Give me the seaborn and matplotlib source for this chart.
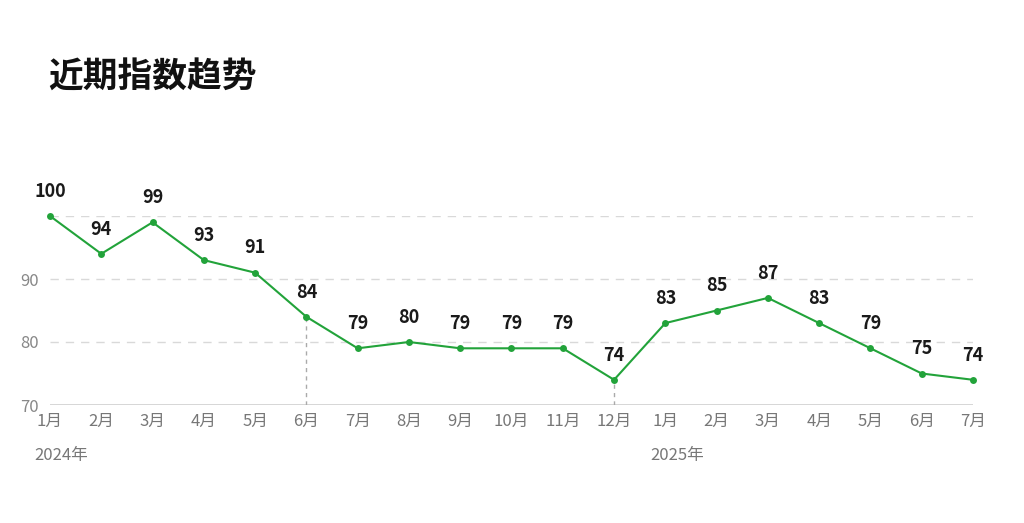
import glob
import matplotlib.pyplot as plt
from matplotlib import font_manager
import seaborn as sns
import pandas as pd

months = ["1月", "2月", "3月", "4月", "5月", "6月", "7月", "8月", "9月", "10月",
          "11月", "12月", "1月", "2月", "3月", "4月", "5月", "6月", "7月"]
values = [100, 94, 99, 93, 91, 84, 79, 80, 79, 79, 79, 74, 83, 85, 87, 83, 79, 75, 74]
years = {0: "2024年", 12: "2025年"}
y_ticks = [70, 80, 90]
grid_lines = [80, 90, 100]
marked = [5, 11]

# make sure a CJK font is registered
cjk_name = None
for path in glob.glob("/usr/share/fonts/**/*CJK*", recursive=True):
    try:
        font_manager.fontManager.addfont(path)
        if cjk_name is None:
            cjk_name = font_manager.FontProperties(fname=path).get_name()
    except Exception:
        pass
families = ["Noto Sans CJK SC", "Noto Sans CJK JP"]
if cjk_name:
    families.insert(0, cjk_name)
plt.rcParams["font.family"] = "sans-serif"
plt.rcParams["font.sans-serif"] = families + ["DejaVu Sans"]

df = pd.DataFrame({"idx": range(len(values)), "value": values})

fig = plt.figure(figsize=(10.24, 5.23), dpi=100)
ax = fig.add_axes([50 / 1024, 118 / 523, 923 / 1024, 189 / 523])

green = "#22a33a"
sns.lineplot(data=df, x="idx", y="value", ax=ax, color=green, linewidth=1.5,
             marker="o", markersize=5, markeredgewidth=0, clip_on=False)

for g in grid_lines:
    ax.axhline(g, color="#d9d9d9", linestyle=(0, (6, 5)), linewidth=1, zorder=0)
ax.axhline(70, color="#d0d0d0", linewidth=1.2, zorder=0)
for i in marked:
    ax.plot([i, i], [70, values[i]], color="#aaaaaa", linestyle=(0, (3, 3)),
            linewidth=1, zorder=0)

for i, v in enumerate(values):
    ax.annotate(str(v), (i, v), xytext=(0, 11), textcoords="offset points",
                ha="center", va="bottom", fontsize=13, fontweight="bold",
                color="#1a1a1a")

ax.set_xlim(0, len(values) - 1)
ax.set_ylim(70, 100)
ax.set_xticks(range(len(values)))
ax.set_xticklabels(months, fontsize=12, color="#777777")
ax.set_yticks(y_ticks)
ax.set_yticklabels([str(t) for t in y_ticks], fontsize=12, color="#888888")
ax.tick_params(axis="both", length=0)
ax.tick_params(axis="x", pad=6)
ax.tick_params(axis="y", pad=8)
ax.set_xlabel("")
ax.set_ylabel("")
for s in ax.spines.values():
    s.set_visible(False)

for i, y in years.items():
    ax.annotate(y, (i, 70), xytext=(-11, -30), textcoords="offset points",
                ha="left", va="top", fontsize=12, color="#777777",
                annotation_clip=False)

fig.text(48 / 1024, 1 - 77 / 523, "近期指数趋势", fontsize=25, fontweight="bold",
         va="center", ha="left", color="#111111")

fig.savefig("out.png", dpi=100)
